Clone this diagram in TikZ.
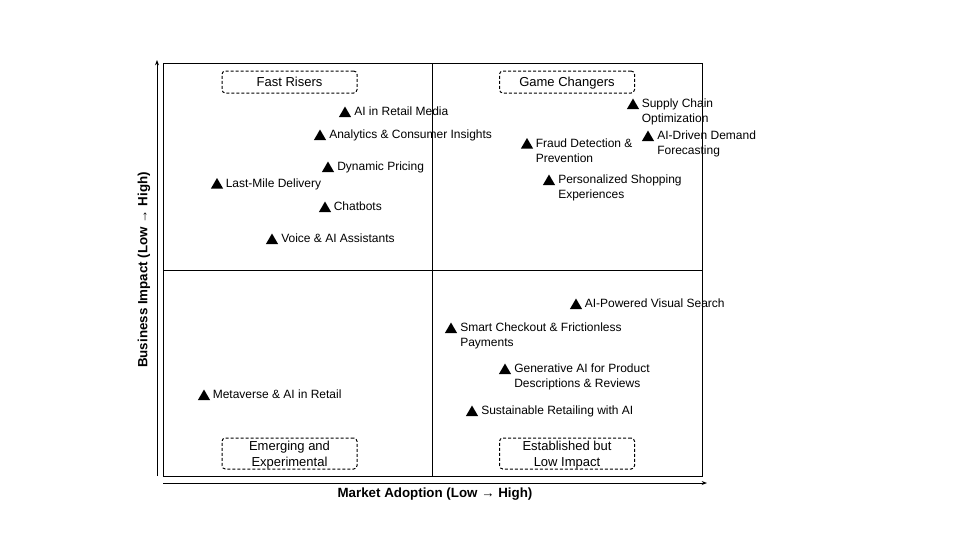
\documentclass[tikz,border=0pt]{standalone}
\usepackage{fontspec}
\setmainfont{Liberation Sans}
\usetikzlibrary{shapes.geometric,arrows.meta}
\begin{document}
\begin{tikzpicture}[x=0.75pt,y=-0.75pt,
  tri/.style={regular polygon, regular polygon sides=3, fill=black, draw=none, inner sep=0pt, minimum size=10.5pt},
  itemlabel/.style={anchor=north west, inner sep=0pt, align=left, font=\fontsize{9}{11}\selectfont},
  quad/.style={draw, line width=0.75pt, dash pattern=on 2.25pt off 1.5pt, rounded corners=2.5pt, minimum width=101.25pt, align=center, font=\fontsize{9.75}{12}\selectfont, inner sep=0pt},
  axislabel/.style={font=\bfseries\fontsize{10}{12}\selectfont, inner sep=0pt},
  frame/.style={line width=0.75pt},
  axis/.style={line width=0.75pt, -{Stealth[length=4pt,width=3pt]}}
]
\useasboundingbox (0,0) rectangle (960,540);

% frame and quadrant lines
\coordinate (tl) at (163,63);
\coordinate (br) at (702,476);
\coordinate (mt) at (432,63);
\coordinate (mb) at (432,476);
\coordinate (ml) at (163,270);
\coordinate (mr) at (702,270);
\draw[frame] (tl) rectangle (br);
\draw[frame] (mt) -- (mb);
\draw[frame] (ml) -- (mr);

% axes
\coordinate (yo) at (157,476);
\coordinate (ye) at (157,60);
\coordinate (xo) at (163,483);
\coordinate (xe) at (707,483);
\draw[axis] (yo) -- (ye);
\draw[axis] (xo) -- (xe);
\node[axislabel] (xlab) at (435,494) {Market Adoption (Low → High)};
\node[axislabel, rotate=90] (ylab) at (144,270) {Business Impact (Low → High)};

% quadrant titles
\node[quad, minimum height=16.5pt, text height=8pt, text depth=2pt] (q1) at (289.5,82) {Fast Risers};
\node[quad, minimum height=16.5pt, text height=8pt, text depth=2pt] (q2) at (567,82) {Game Changers};
\node[quad, minimum height=23.25pt] (q3) at (289.5,453.5) {\rule{0pt}{9pt}Emerging and\\Experimental};
\node[quad, minimum height=23.25pt] (q4) at (567,453.5) {\rule{0pt}{9pt}Established but\\Low Impact\rule[-2pt]{0pt}{2pt}};

% items
\node[tri] (t1) at (345,113.5) {};
\node[itemlabel] (l1) at (354,107) {AI in Retail Media};
\node[tri] (t2) at (320,136.5) {};
\node[itemlabel] (l2) at (329,130) {Analytics \& Consumer Insights};
\node[tri] (t3) at (328,168.5) {};
\node[itemlabel] (l3) at (337,162) {Dynamic Pricing};
\node[tri] (t4) at (217,185) {};
\node[itemlabel] (l4) at (225.5,178.5) {Last-Mile Delivery};
\node[tri] (t5) at (325,208.5) {};
\node[itemlabel] (l5) at (333.5,202) {Chatbots};
\node[tri] (t6) at (272,240.5) {};
\node[itemlabel] (l6) at (281,234) {Voice \& AI Assistants};
\node[tri] (t7) at (633,105.5) {};
\node[itemlabel] (l7) at (641.5,98.5) {Supply Chain\\Optimization};
\node[tri] (t8) at (648,137.5) {};
\node[itemlabel] (l8) at (657,130.5) {AI-Driven Demand\\Forecasting};
\node[tri] (t9) at (527,145) {};
\node[itemlabel] (l9) at (535.5,138.5) {Fraud Detection \&\\Prevention};
\node[tri] (t10) at (549,181.5) {};
\node[itemlabel] (l10) at (558,175) {Personalized Shopping\\Experiences};
\node[tri] (t11) at (576,305.5) {};
\node[itemlabel] (l11) at (584.5,299) {AI-Powered Visual Search};
\node[tri] (t12) at (451,329.5) {};
\node[itemlabel] (l12) at (460,323) {Smart Checkout \& Frictionless\\Payments};
\node[tri] (t13) at (505,370.5) {};
\node[itemlabel] (l13) at (514,364) {Generative AI for Product\\Descriptions \& Reviews};
\node[tri] (t14) at (472,412.5) {};
\node[itemlabel] (l14) at (481,406) {Sustainable Retailing with AI};
\node[tri] (t15) at (204,396.5) {};
\node[itemlabel] (l15) at (212.5,390) {Metaverse \& AI in Retail};
\end{tikzpicture}
\end{document}
